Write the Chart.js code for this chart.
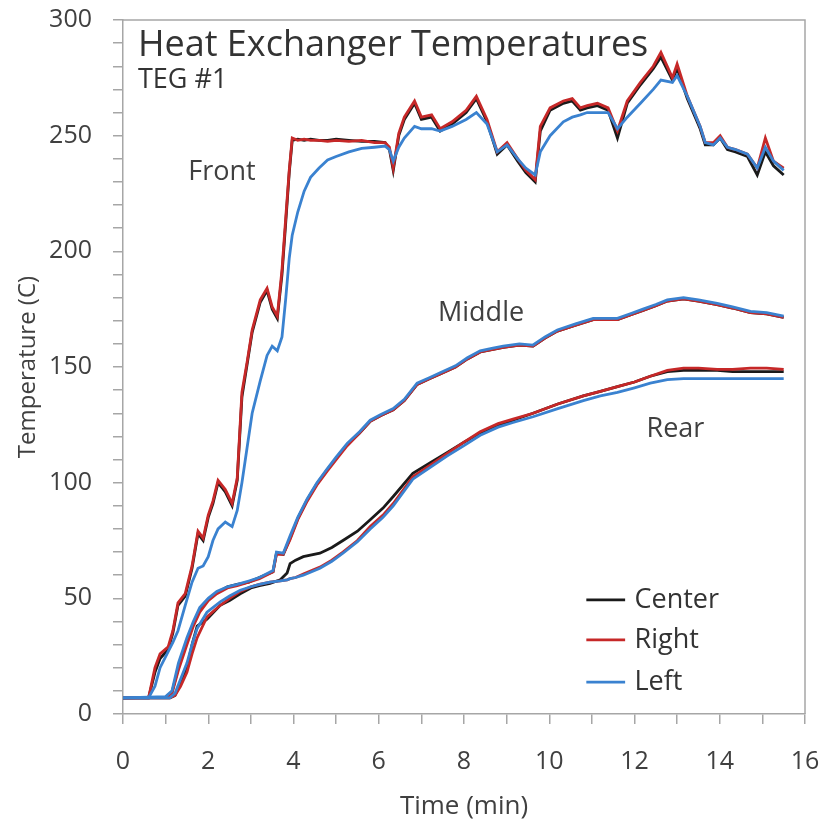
<!DOCTYPE html>
<html><head><meta charset="utf-8">
<script src="https://cdn.jsdelivr.net/npm/chart.js@4.4.0/dist/chart.umd.min.js"></script>
<style>html,body{margin:0;padding:0;background:#fff;overflow:hidden}#wrap{width:828px;height:823px;position:relative}</style>
</head><body><div id="wrap"><canvas id="c"></canvas></div>
<script>
// ---- data (time in minutes, temperature in C) ----
const frontTime = [0,0.6,0.75,0.87,1.06,1.17,1.29,1.46,1.62,1.76,1.88,2.0,2.11,2.23,2.4,2.56,2.68,2.79,2.91,3.03,3.22,3.38,3.5,3.62,3.73,3.82,3.9,3.97,4.1,4.25,4.4,4.6,4.8,5.0,5.3,5.6,5.9,6.15,6.25,6.34,6.47,6.6,6.84,7.0,7.24,7.44,7.72,8.05,8.29,8.54,8.78,9.01,9.26,9.45,9.67,9.79,10.02,10.33,10.54,10.73,10.89,11.13,11.38,11.6,11.83,12.14,12.44,12.62,12.89,13.0,13.24,13.54,13.66,13.85,14.01,14.18,14.37,14.65,14.88,15.07,15.26,15.5];
const frontCenter = [7,7,18,24,28,35,47,51,63,78,75,85,91,100,96,90,101,137,151,165,178,183,175,171,190,213,234,248,248.5,248,248.5,248,248,248.5,248,247.5,247.5,247,244,235,250,257,264,257,258,252,255,260,266,256,242,246,239,234,230,252,261,264,265,261,262,263,261,249,264,272,279,284,274,279,266,253,246,246,249,244,243,241,233,243,237,233];
const frontRight = [7,7,20,26,29,36,48,52,64,79,76,86,92,101,97,91,102,139,152,166,179,184,176,172,192,215,235,249,248,248.5,248,248,247.5,248,247.5,248,247,247,245,236,251,258,265,258,259,253,256,261,267,257,243,247,240,235,231,254,262,265,266,262,263,264,262,252,265,273,280,286,275,281,267,254,247,247,250,245,244,242,236,249,239,236];
const frontLeft = [7,7,12,20,27,31,36,47,57,63,64,68,75,80,83,81,88,100,115,130,144,155,159,157,163,180,197,207,217,226,232,236,239.5,241,243,244.5,245,245.5,244,239,245,249,254,253,253,252,254,257,260,255,243,246,240,236,233,243,250,256,258,259,260,260,260,253,258,264,270,274,273,276,267,254,247,246,249,245,244,242,236,245,239,235];

const middleTime = [0,1.0,1.15,1.3,1.5,1.65,1.8,2.0,2.2,2.45,2.68,2.95,3.2,3.52,3.6,3.76,3.92,4.1,4.32,4.55,4.79,5.0,5.26,5.55,5.8,6.05,6.34,6.6,6.9,7.2,7.44,7.8,8.08,8.38,8.65,8.92,9.3,9.62,9.9,10.19,10.6,11.03,11.3,11.6,11.9,12.2,12.5,12.77,13.15,13.5,13.94,14.3,14.72,15.1,15.5];
const middleCenter = [7,7.3,9.5,20,31,39,45,49.5,52.5,55,56,57,59,61.5,69.5,69,76,84.5,92.5,99.5,105.5,110.5,116.5,121.5,126.5,129,131.5,135.5,142.5,145,147,150,153.5,156.5,157.5,158.5,159.5,159,162.5,165.5,168,170.5,170.5,170.5,172.5,174.5,176.5,178.5,179.5,178.5,177,175.5,173.5,173,171.5];
const middleRight = [7,7.2,9,19,30,38,44,49,52,54.5,55.5,57,58.5,61.5,69,69,75.5,84,92,99,105,110,116,121.5,126.5,129,131.5,135.5,142.5,145,147,150,153.5,156.5,157.5,158.5,159.5,159,162.5,165.5,168,170.5,170.5,170.5,172.5,174.5,176.5,178.5,179.5,178.5,177,175.5,173.5,173,171.5];
const middleLeft = [7,7.5,10,22,33,40,46,50,53,55,56,57.5,59,62,70,69.5,77,85,93,100,106,111,117,122,127,129.5,132,136,143,145.5,147.5,150.5,154,157,158,159,160,159.5,163,166,168.5,171,171,171,173,175,177,179,180,179,177.5,176,174,173.5,172];

const rearTime = [0,1.1,1.22,1.35,1.5,1.62,1.74,1.97,2.28,2.5,2.75,3.0,3.2,3.45,3.69,3.85,3.92,4.05,4.23,4.62,4.9,5.16,5.5,5.8,6.1,6.34,6.8,7.2,7.6,8.0,8.38,8.8,9.15,9.62,10.2,10.8,11.2,11.6,12.0,12.37,12.77,13.15,13.5,13.94,14.3,14.72,15.1,15.5];
const rearCenter = [7,7,8,13,20,30,38,41,47,49,52,54.5,55.5,56.5,58,61,65,66.5,68,69.5,72,75,79,84,89,94,104,108.5,113,117.5,121.5,124.5,127,130,134,137.5,139.5,141.5,143.5,146,148,148.5,148.5,148.5,148,148,148,148];
const rearRight = [7,7,8,12,18,26,33,42,47,50,53,55,56,57,57.5,58,58.5,59,60.5,63.5,66.5,70,75,81,86,91,102.5,107.5,112.5,117.5,122,125.5,127.5,130,134,137.5,139.5,141.5,143.5,146,148.5,149.5,149.5,149,149,149.5,149.5,149];
const rearLeft = [7,7,9,15,22,30,37,44,48.5,51,53.5,55,56,57,57.5,58,58.5,59,60,63,66,69.5,74.5,80,85,90,101.5,106.5,111.5,116,120.5,124,126,128.5,132,135.5,137.5,139,141,143,144.5,145,145,145,145,145,145,145];

const seriesNames = ['Center','Right','Left'];
const seriesColors = ['#1a1a1a','#c62828','#3a82d0'];
const xTickLabels = [0,2,4,6,8,10,12,14,16];
const yTickLabels = [0,50,100,150,200,250,300];

// ---- build datasets ----
const FONT = "'Open Sans', 'Liberation Sans', sans-serif";
const pts = (t, v) => t.map((x, i) => ({x, y: v[i]}));
const groups = [
  [frontTime, [frontCenter, frontRight, frontLeft]],
  [middleTime, [middleCenter, middleRight, middleLeft]],
  [rearTime, [rearCenter, rearRight, rearLeft]]
];
const datasets = [];
groups.forEach(([t, arr]) => {
  arr.forEach((vals, k) => {
    datasets.push({
      label: seriesNames[k],
      data: pts(t, vals),
      borderColor: seriesColors[k],
      backgroundColor: seriesColors[k],
      borderWidth: 2.8,
      pointRadius: 0,
      tension: 0,
      order: 3 - k
    });
  });
});

const annotations = [
  {text: 'Heat Exchanger Temperatures', x: 0.35, y: 289, size: 36, align: 'left', color: '#333'},
  {text: 'TEG #1', x: 0.35, y: 274, size: 27, align: 'left', color: '#333'},
  {text: 'Front', x: 2.32, y: 234, size: 27, align: 'center', color: '#404040'},
  {text: 'Middle', x: 8.4, y: 173.4, size: 27, align: 'center', color: '#404040'},
  {text: 'Rear', x: 12.96, y: 123.2, size: 27, align: 'center', color: '#404040'}
];
const legendSpec = {x0: 10.87, x1: 11.78, tx: 12.0, ys: [49.3, 32, 13.8], size: 27};

const overlay = {
  id: 'overlay',
  afterDraw(chart) {
    const {ctx, chartArea: a, scales: {x, y}} = chart;
    ctx.save();
    ctx.strokeStyle = '#a6a6a6';
    ctx.lineWidth = 1.5;
    ctx.beginPath();
    ctx.moveTo(a.left, a.top);
    ctx.lineTo(a.right, a.top);
    ctx.lineTo(a.right, a.bottom);
    ctx.stroke();
    ctx.textBaseline = 'middle';
    annotations.forEach(an => {
      ctx.font = an.size + 'px ' + FONT;
      ctx.fillStyle = an.color;
      ctx.textAlign = an.align;
      ctx.fillText(an.text, x.getPixelForValue(an.x), y.getPixelForValue(an.y));
    });
    seriesNames.forEach((n, i) => {
      const py = y.getPixelForValue(legendSpec.ys[i]);
      ctx.strokeStyle = seriesColors[i];
      ctx.lineWidth = 2.8;
      ctx.beginPath();
      ctx.moveTo(x.getPixelForValue(legendSpec.x0), py);
      ctx.lineTo(x.getPixelForValue(legendSpec.x1), py);
      ctx.stroke();
      ctx.font = legendSpec.size + 'px ' + FONT;
      ctx.fillStyle = '#333';
      ctx.textAlign = 'left';
      ctx.fillText(n, x.getPixelForValue(legendSpec.tx), py);
    });
    ctx.restore();
  }
};

new Chart(document.getElementById('c'), {
  type: 'line',
  data: {datasets},
  options: {
    responsive: true,
    maintainAspectRatio: false,
    animation: false,
    layout: {padding: {top: 20, right: 23, left: 0, bottom: 0}},
    plugins: {legend: {display: false}, tooltip: {enabled: false}},
    scales: {
      x: {
        type: 'linear', min: 0, max: 16,
        ticks: {stepSize: 1, autoSkip: false, maxRotation: 0, color: '#404040', padding: 23,
          font: {family: FONT, size: 25},
          callback: v => xTickLabels.includes(v) ? String(v) : ''},
        grid: {drawOnChartArea: false, drawTicks: true, tickLength: 10, color: '#a6a6a6', lineWidth: 1.5},
        border: {color: '#a6a6a6', width: 1.5},
        title: {display: true, text: 'Time (min)', color: '#404040', font: {family: FONT, size: 26}, padding: {top: 0, bottom: 1}},
        afterFit: s => { s.height = 109; s.paddingLeft = 0; s.paddingRight = 0; }
      },
      y: {
        min: 0, max: 300,
        ticks: {stepSize: 10, autoSkip: false, color: '#404040', padding: 21,
          font: {family: FONT, size: 25},
          callback: v => yTickLabels.includes(v) ? String(v) : ''},
        grid: {drawOnChartArea: false, drawTicks: true, tickLength: 10, color: '#a6a6a6', lineWidth: 1.5},
        border: {color: '#a6a6a6', width: 1.5},
        title: {display: true, text: 'Temperature (C)', color: '#404040', font: {family: FONT, size: 24}, padding: {top: 14, bottom: 0}},
        afterFit: s => { s.width = 123; s.paddingTop = 0; s.paddingBottom = 0; }
      }
    }
  },
  plugins: [overlay]
});
</script>
</body></html>
